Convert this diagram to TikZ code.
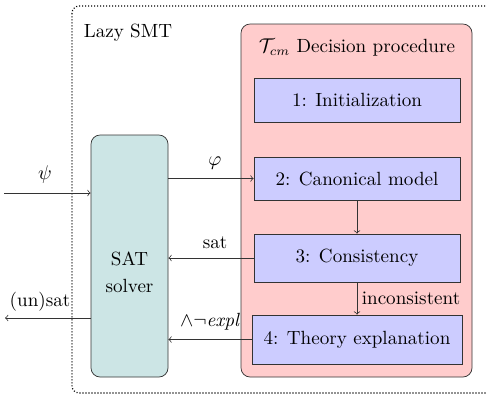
\documentclass[tikz,border=0pt]{standalone}
\begin{document}
\begin{tikzpicture}[x=0.55pt,y=-0.55pt,
  every node/.style={font=\fontsize{10.5}{13}\selectfont},
  linecol/.style={draw=black!80},
  satbox/.style={linecol,fill=teal!20,rounded corners=5pt,minimum width=42.35pt,minimum height=133.1pt,inner sep=0pt},
  procbox/.style={linecol,fill=red!20,rounded corners=5pt,minimum width=127.05pt,minimum height=194.15pt,inner sep=0pt},
  stepbox/.style={linecol,fill=blue!20,minimum width=113.3pt,inner sep=0pt},
  conn/.style={->,black!80},
  lbl/.style={inner sep=1pt},
  outerbox/.style={line width=0.65pt,dash pattern=on 0.6pt off 1.05pt,rounded corners=4pt}
]
\useasboundingbox (0,0) rectangle (487,400);
\draw[outerbox] (72,6) rectangle (500,393);
\node (lazy) at (128,33) {Lazy SMT};
\node[satbox] (sat) at (129.5,256) {};
\node[align=center] (satlbl) at (129.5,272) {SAT\\[2pt]solver};
\node[procbox] (proc) at (356.5,200.5) {};
\node (title) at (357,48) {$\mathcal{T}_{cm}$ Decision procedure};
\node[stepbox,minimum height=24.2pt] (b1) at (357,100) {1: Initialization};
\node[stepbox,minimum height=23.65pt] (b2) at (357,178.5) {2: Canonical model};
\node[stepbox,minimum height=26.4pt] (b3) at (357,258) {3: Consistency};
\node[stepbox,minimum height=26.95pt,minimum width=115.5pt] (b4) at (357,339.5) {4: Theory explanation};
\coordinate (in) at (4,193);
\coordinate (out) at (5,318);
\draw[conn] (in) -- (sat.west |- in);
\node[lbl] (psi) at (45,175) {$\psi$};
\draw[conn] (sat.west |- out) -- (out);
\node[lbl] (unsat) at (40,302) {(un)sat};
\draw[conn] (sat.east |- b2.west) -- (b2.west);
\node[lbl] (phi) at (215,163) {$\varphi$};
\draw[conn] (b3.west) -- (sat.east |- b3.west);
\node[lbl] (satl) at (215,243) {sat};
\draw[conn] (b4.west) -- (sat.east |- b4.west);
\node[lbl] (expl) at (210,322) {$\wedge\neg$\textit{expl}};
\draw[conn] (b2.south) -- (b3.north);
\draw[conn] (b3.south) -- (b4.north);
\node[lbl] (inc) at (411,298) {inconsistent};
\end{tikzpicture}
\end{document}
